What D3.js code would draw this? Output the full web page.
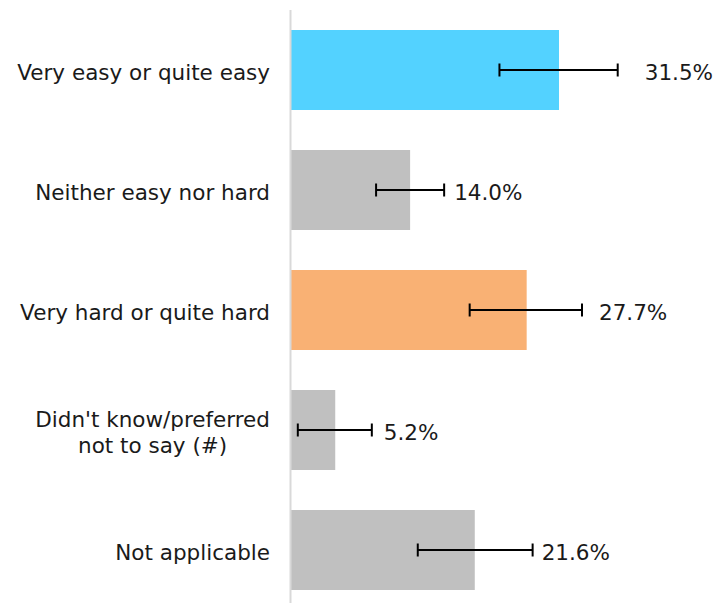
<!DOCTYPE html>
<html><head><meta charset="utf-8">
<script src="https://cdn.jsdelivr.net/npm/d3@7"></script>
<style>html,body{margin:0;padding:0;background:#fff;}svg{display:block;}</style>
</head><body>
<svg id="chart" width="718" height="603"></svg>
<script>
const categories = [
  ["Very easy or quite easy"],
  ["Neither easy nor hard"],
  ["Very hard or quite hard"],
  ["Didn't know/preferred", "not to say (#)"],
  ["Not applicable"]
];
const values = [31.5, 14.0, 27.7, 5.2, 21.6];
const lower = [24.5, 10.0, 21.0, 0.8, 14.9];
const upper = [38.4, 18.0, 34.2, 9.5, 28.4];
const labels = ["31.5%", "14.0%", "27.7%", "5.2%", "21.6%"];
const colors = ["#53D2FF", "#C0C0C0", "#F9B174", "#C0C0C0", "#C0C0C0"];
const labelGap = [27, 10, 17, 12, 9];

const svg = d3.select("#chart");
const font = "'DejaVu Sans', Verdana, sans-serif";
const fs = 21.5;
const x = d3.scaleLinear().domain([0, 50]).range([291, 716.4]);
const ids = d3.range(values.length);
const y = d3.scaleBand().domain(ids).range([10, 610]).paddingInner(1/3).paddingOuter(1/6);

// bars
svg.selectAll("rect.bar").data(ids).enter().append("rect")
  .attr("x", x(0)).attr("y", i => y(i))
  .attr("width", i => x(values[i]) - x(0)).attr("height", y.bandwidth())
  .attr("fill", i => colors[i]);

// axis line
svg.append("line").attr("x1", x(0) - 0.5).attr("x2", x(0) - 0.5)
  .attr("y1", 10).attr("y2", 603).attr("stroke", "#d9d9d9").attr("stroke-width", 2);

// error bars
const eg = svg.selectAll("g.err").data(ids).enter().append("g");
eg.append("line").attr("x1", i => x(lower[i])).attr("x2", i => x(upper[i]))
  .attr("y1", i => y(i) + y.bandwidth()/2).attr("y2", i => y(i) + y.bandwidth()/2)
  .attr("stroke", "#000").attr("stroke-width", 2);
[lower, upper].forEach(arr => {
  eg.append("line").attr("x1", i => x(arr[i])).attr("x2", i => x(arr[i]))
    .attr("y1", i => y(i) + y.bandwidth()/2 - 6.5).attr("y2", i => y(i) + y.bandwidth()/2 + 6.5)
    .attr("stroke", "#000").attr("stroke-width", 2);
});

// value labels
svg.selectAll("text.val").data(ids).enter().append("text")
  .attr("x", i => x(upper[i]) + labelGap[i])
  .attr("y", i => y(i) + y.bandwidth()/2 + 9.5)
  .attr("font-family", font).attr("font-size", fs).attr("fill", "#1a1a1a")
  .text(i => labels[i]);

// category labels (multi-line blocks right-aligned, lines centred within block)
const lineH = 26;
const right = 270;
svg.selectAll("text.cat").data(ids).enter().append("text")
  .attr("text-anchor", "middle").attr("font-family", font).attr("font-size", fs).attr("fill", "#1a1a1a")
  .each(function(i) {
    const lines = categories[i];
    const cy = y(i) + y.bandwidth()/2 + 9.5 - (lines.length - 1) * lineH / 2;
    const t = d3.select(this);
    const spans = lines.map((l, k) => t.append("tspan").attr("y", cy + k * lineH).text(l));
    const maxW = d3.max(spans, s => s.node().getComputedTextLength());
    spans.forEach(s => s.attr("x", right - maxW / 2));
  });
</script>
</body></html>
